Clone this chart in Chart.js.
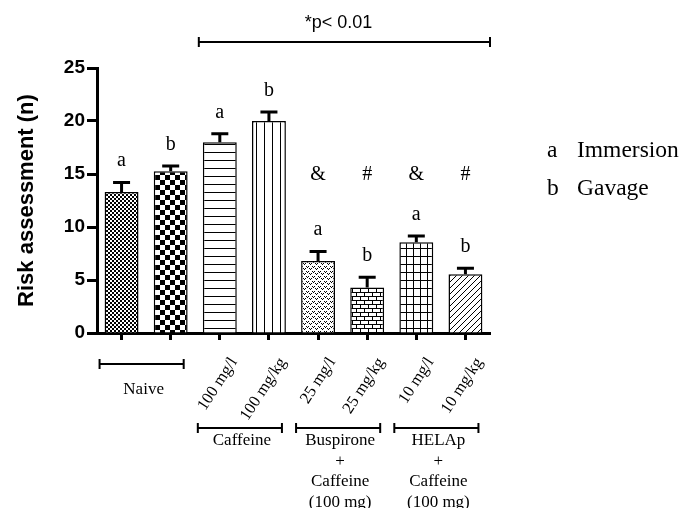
<!DOCTYPE html>
<html lang="en">
<head>
    <meta charset="UTF-8">
    <title>Risk assessment</title>
    <script src="https://cdn.jsdelivr.net/npm/chart.js@4.4.1/dist/chart.umd.min.js"></script>
    <style>
        body {
            margin: 0;
            padding: 0;
            background-color: #fff;
        }
        canvas {
            display: block;
        }
    </style>
</head>
<body>
    <canvas id="riskChart" width="683" height="508"></canvas>

    <script>
        // data
        const doseLabels = ['', '', '100 mg/l', '100 mg/kg', '25 mg/l', '25 mg/kg', '10 mg/l', '10 mg/kg'];
        const meanValues = [13.3, 15.25, 18.0, 20.0, 6.8, 4.3, 8.55, 5.55];
        const semValues = [0.9, 0.5, 0.8, 0.85, 0.9, 0.95, 0.6, 0.55];
        const routeLetters = ['a', 'b', 'a', 'b', 'a', 'b', 'a', 'b'];
        const signifMarks = ['', '', '', '', '&', '#', '&', '#'];
        const markLevel = 14.4;
        const groupNames = [['Naive'], ['Caffeine'], ['Buspirone', '+', 'Caffeine', '(100 mg)'], ['HELAp', '+', 'Caffeine', '(100 mg)']];
        const groupFirstBar = [0, 2, 4, 6];
        const legendKeys = ['a', 'b'];
        const legendNames = ['Immersion', 'Gavage'];
        const pText = '*p< 0.01';

        const SERIF = '"Liberation Serif", "Times New Roman", serif';
        const SANS = '"Liberation Sans", Arial, sans-serif';

        // black & white fill patterns, one per bar
        function makePattern(w, h, draw) {
            const c = document.createElement('canvas');
            c.width = w;
            c.height = h;
            const g = c.getContext('2d');
            g.fillStyle = '#fff';
            g.fillRect(0, 0, w, h);
            g.fillStyle = '#000';
            g.strokeStyle = '#000';
            g.lineWidth = 1;
            draw(g);
            return document.createElement('canvas').getContext('2d').createPattern(c, 'repeat');
        }

        const patterns = [
            makePattern(4, 4, g => { g.fillRect(0, 0, 2, 2); g.fillRect(2, 2, 2, 2); }),
            makePattern(10, 10, g => { g.fillRect(0, 0, 5, 5); g.fillRect(5, 5, 5, 5); }),
            makePattern(8, 8, g => { g.fillRect(0, 0, 8, 1); }),
            makePattern(8, 8, g => { g.fillRect(0, 0, 1, 8); }),
            makePattern(6, 5, g => {
                g.fillRect(0, 1, 1, 1); g.fillRect(1, 2, 1, 1); g.fillRect(2, 1, 1, 1);
                g.fillRect(3, 3, 1, 1); g.fillRect(4, 4, 1, 1); g.fillRect(5, 3, 1, 1);
            }),
            makePattern(8, 8, g => {
                g.fillRect(0, 0, 8, 1); g.fillRect(0, 4, 8, 1);
                g.fillRect(0, 0, 1, 4); g.fillRect(4, 4, 1, 4);
            }),
            makePattern(7, 8, g => { g.fillRect(0, 0, 7, 1); g.fillRect(0, 0, 1, 8); }),
            makePattern(6, 6, g => {
                g.beginPath();
                g.moveTo(-1, 7); g.lineTo(7, -1);
                g.moveTo(-4, 4); g.lineTo(4, -4);
                g.moveTo(2, 10); g.lineTo(10, 2);
                g.stroke();
            })
        ];

        function bracket(ctx, x1, x2, yy, tick) {
            ctx.beginPath();
            ctx.moveTo(x1, yy); ctx.lineTo(x2, yy);
            ctx.moveTo(x1, yy - tick); ctx.lineTo(x1, yy + tick);
            ctx.moveTo(x2, yy - tick); ctx.lineTo(x2, yy + tick);
            ctx.stroke();
        }

        // error bars, letters and the extra annotations
        const annotate = {
            id: 'annotate',
            afterDatasetsDraw(chart) {
                const ctx = chart.ctx;
                const y = chart.scales.y;
                const bars = chart.getDatasetMeta(0).data;
                ctx.save();
                ctx.strokeStyle = '#000';
                ctx.fillStyle = '#000';
                ctx.lineWidth = 3;
                ctx.textAlign = 'center';
                ctx.textBaseline = 'alphabetic';
                ctx.font = '20px ' + SERIF;
                bars.forEach((bar, i) => {
                    const top = y.getPixelForValue(meanValues[i] + semValues[i]);
                    ctx.beginPath();
                    ctx.moveTo(bar.x, bar.y);
                    ctx.lineTo(bar.x, top);
                    ctx.moveTo(bar.x - 8.5, top);
                    ctx.lineTo(bar.x + 8.5, top);
                    ctx.stroke();
                    ctx.fillText(routeLetters[i], bar.x, top - 16);
                    if (signifMarks[i]) {
                        ctx.fillText(signifMarks[i], bar.x, y.getPixelForValue(markLevel));
                    }
                });
                ctx.restore();
            },
            afterDraw(chart) {
                const ctx = chart.ctx;
                const x = chart.scales.x;
                const area = chart.chartArea;
                ctx.save();
                ctx.strokeStyle = '#000';
                ctx.fillStyle = '#000';
                ctx.lineWidth = 2;

                // significance bracket on top
                const pLeft = x.getPixelForValue(2) - 21;
                const pRight = area.right;
                bracket(ctx, pLeft, pRight, 42, 5);
                ctx.font = '18px ' + SANS;
                ctx.textAlign = 'center';
                ctx.fillText(pText, (pLeft + pRight) / 2 - 6, 28);

                // group brackets under the axis
                ctx.font = '17px ' + SERIF;
                groupNames.forEach((lines, g) => {
                    const first = groupFirstBar[g];
                    const x1 = x.getPixelForValue(first) - 22;
                    const x2 = x.getPixelForValue(first + 1) + 13;
                    const by = g === 0 ? area.bottom + 31 : area.bottom + 95;
                    const ty = g === 0 ? by + 30 : by + 17;
                    bracket(ctx, x1, x2, by, 5);
                    lines.forEach((t, k) => {
                        ctx.fillText(t, (x1 + x2) / 2 + 2, ty + k * 20.5);
                    });
                });

                // letter legend on the right
                ctx.font = '23.5px ' + SERIF;
                ctx.textAlign = 'left';
                legendKeys.forEach((k, i) => {
                    const ly = 157 + i * 38;
                    ctx.fillText(k, 547, ly);
                    ctx.fillText(legendNames[i], 577, ly);
                });
                ctx.restore();
            }
        };

        new Chart(document.getElementById('riskChart'), {
            type: 'bar',
            data: {
                labels: doseLabels,
                datasets: [{
                    data: meanValues,
                    backgroundColor: patterns,
                    borderColor: '#000',
                    borderWidth: 1.5,
                    categoryPercentage: 1,
                    barPercentage: 0.69
                }]
            },
            options: {
                responsive: false,
                animation: false,
                layout: {
                    padding: { top: 68, right: 193, bottom: 0, left: 0 }
                },
                plugins: {
                    legend: { display: false },
                    tooltip: { enabled: false }
                },
                scales: {
                    x: {
                        afterFit: scale => { scale.height = 175; },
                        grid: {
                            offset: false,
                            drawOnChartArea: false,
                            tickLength: 7,
                            tickWidth: 3,
                            tickColor: '#000'
                        },
                        border: { color: '#000', width: 3 },
                        ticks: {
                            autoSkip: false,
                            minRotation: 57,
                            maxRotation: 57,
                            labelOffset: 14,
                            padding: 14,
                            color: '#000',
                            font: { family: SERIF, size: 16.5 }
                        }
                    },
                    y: {
                        min: 0,
                        max: 25,
                        afterFit: scale => { scale.width = 97; },
                        grid: {
                            drawOnChartArea: false,
                            tickLength: 10,
                            tickWidth: 3,
                            tickColor: '#000'
                        },
                        border: { color: '#000', width: 3 },
                        ticks: {
                            stepSize: 5,
                            padding: 2,
                            color: '#000',
                            font: { family: SANS, size: 19, weight: 'bold' }
                        },
                        title: {
                            display: true,
                            text: 'Risk assessment (n)',
                            color: '#000',
                            padding: { top: 14, bottom: 0 },
                            font: { family: SANS, size: 22, weight: 'bold' }
                        }
                    }
                }
            },
            plugins: [annotate]
        });
    </script>
</body>
</html>
